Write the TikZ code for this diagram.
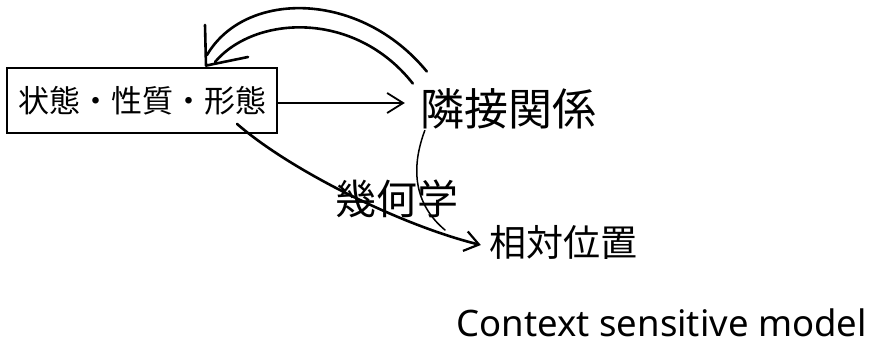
\documentclass[tikz,border=0pt]{standalone}
\usepackage{fontspec}
\newfontfamily\cjk{Noto Sans CJK JP}
\newfontfamily\latinhand{Noto Sans}
\usetikzlibrary{arrows.meta,calc}
\tikzset{
  boxnode/.style={draw, line width=1.8pt, minimum width=270pt, minimum height=65pt, inner sep=0pt, font=\cjk\fontsize{31}{31}\selectfont},
  bigjp/.style={inner sep=0pt, font=\cjk\fontsize{44}{44}\selectfont},
  geojp/.style={inner sep=0pt, font=\cjk\fontsize{41}{41}\selectfont},
  reljp/.style={inner sep=0pt, font=\cjk\fontsize{37}{37}\selectfont},
  captext/.style={inner sep=0pt, font=\latinhand\fontsize{36.5}{36.5}\selectfont},
  conn/.style={line width=1.8pt, line cap=round, line join=round},
  thickconn/.style={line width=2.6pt, line cap=round, line join=round},
  thinconn/.style={line width=1.5pt, line cap=round},
  barb/.style={-{Straight Barb[length=16pt,width=20pt,line width=1.8pt]}},
  barbtwo/.style={-{Straight Barb[length=14pt,width=20pt,line width=2.2pt]}},
}
\begin{document}
\begin{tikzpicture}[x=1pt,y=-1pt]
\useasboundingbox (0,0) rectangle (872,347);
\fill[white] (0,0) rectangle (872,347);

\node[boxnode] (box) at (142,100.5) {状態・性質・形態};
\node[bigjp] (adj) at (508,109) {隣接関係};
\node[geojp] (geo) at (397,199) {幾何学};
\node[reljp] (rel) at (563,242) {相対位置};
\node[captext, anchor=base east] (cap) at (867,336) {Context sensitive model};

% straight arrow box -> adjacency
\draw[conn,barb] ([yshift=-2.5pt]box.east) -- ([yshift=-2.5pt,xshift=-15pt]box.east -| adj.west);

% curved arrow from the box to relative position
\coordinate (gstart) at ($(box.south)+(95,-10)$);
\draw[thickconn,barbtwo] (gstart) .. controls (290,170) and (400,225) .. ([xshift=-8pt,yshift=-3pt]rel.west);

% thin curve from adjacency down to the lower arrow
\coordinate (tstart) at ($(adj.south west)+(5,1)$);
\coordinate (tend) at (445,230);
\draw[thinconn] (tstart) .. controls (410,170) and (415,205) .. (tend);

% fat curved arrow from adjacency back to the box
\coordinate (fo) at ($(adj.north west)+(7,-17)$);
\coordinate (fi) at ($(adj.north west)+(-7,-5)$);
\coordinate (tip) at ($(box.north)+(64,-1.5)$);
\draw[thickconn] (fo) .. controls (360,-10) and (245,-10) .. (207,55);
\draw[thickconn] (fi) .. controls (355,10) and (255,15) .. (215,62);
\draw[thickconn] (205,25) -- (tip) -- (248,57);
\end{tikzpicture}
\end{document}
